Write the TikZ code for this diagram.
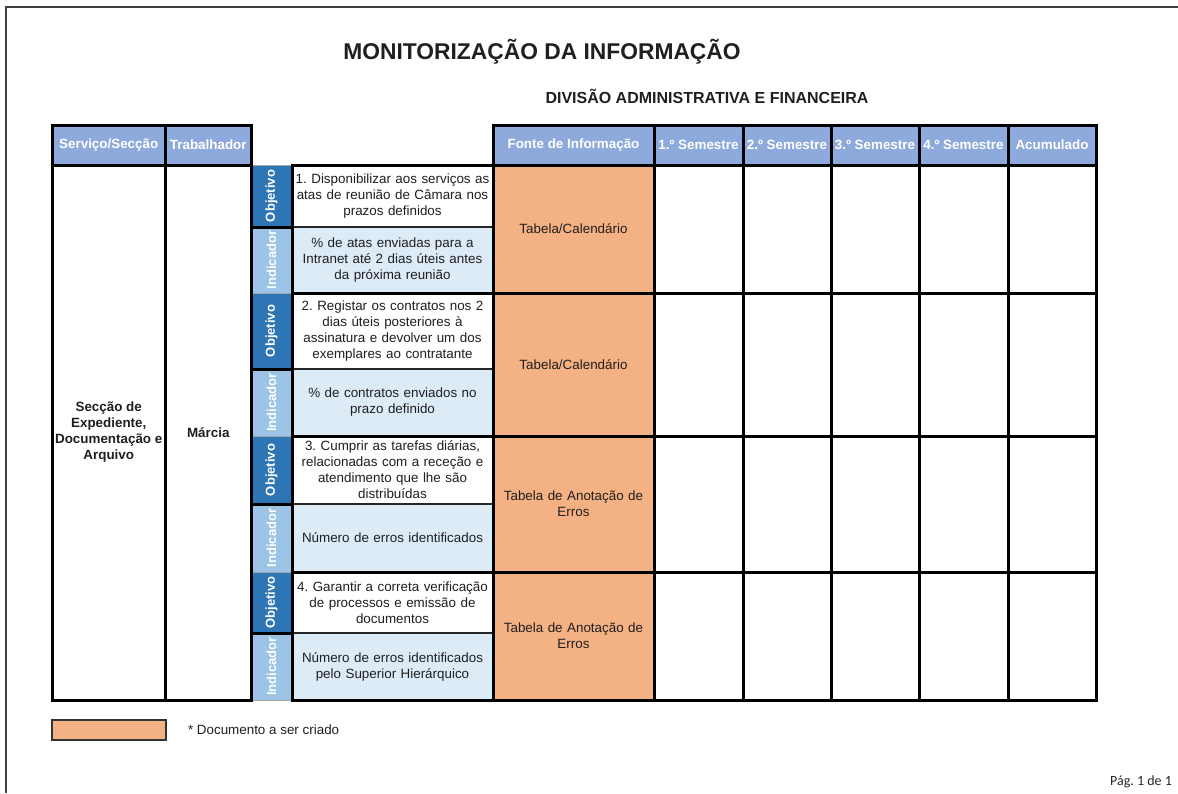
\documentclass[tikz,border=0pt]{standalone}
\usepackage{fontspec}
\setmainfont{Liberation Sans}
\newfontfamily\pagefont{Carlito}
\usetikzlibrary{positioning}
\frenchspacing

\definecolor{headblue}{HTML}{8EA9DB}
\definecolor{objblue}{HTML}{2E75B6}
\definecolor{indblue}{HTML}{9DC3E6}
\definecolor{indfill}{HTML}{DDEBF7}
\definecolor{srcorange}{HTML}{F4B183}

\begin{document}
\begin{tikzpicture}[x=1pt,y=-1pt,
	cell/.style={anchor=north west,inner sep=0pt,outer sep=0pt,align=center,
		font=\fontsize{13.4}{16}\selectfont,text=black!88},
	head/.style={cell,fill=headblue,text=white,minimum height=40pt,
		font=\fontsize{13.4}{16}\selectfont\bfseries},
	txt/.style={cell,draw=black!85,line width=1.2pt,minimum width=201pt,text width=196pt},
	objtxt/.style={txt,fill=white},
	indtxt/.style={txt,fill=indfill},
	lab/.style={anchor=center,inner sep=0pt,outer sep=0pt,rotate=90,minimum height=40pt,
		draw=black!35,line width=1pt,text=white,font=\fontsize{13}{15}\selectfont\bfseries},
	objlab/.style={lab,fill=objblue},
	indlab/.style={lab,fill=indblue},
	source/.style={cell,fill=srcorange,minimum width=161pt,text width=156pt},
	frame/.style={draw=black,line width=3pt}]

	\useasboundingbox (0,0) rectangle (1178,793);
	\draw[line width=1.5pt,black!75] (6,793) -- (6,7) -- (1178,7);

	% titles
	\node[font=\fontsize{22.8}{26}\selectfont\bfseries,text=black!88] (title) at (542,52) {MONITORIZAÇÃO DA INFORMAÇÃO};
	\node[font=\fontsize{16}{19}\selectfont\bfseries,text=black!88] (subtitle) at (707,96) {DIVISÃO ADMINISTRATIVA E FINANCEIRA};

	% header row
	\node[head,minimum width=113.5pt] (hsec)  at (52,125)   {Serviço/Secção};
	\node[head,minimum width=85.5pt]  (htrab) at (165.5,125) {Trabalhador};
	\node[head,minimum width=161pt]   (hsrc)  at (493,125)  {Fonte de Informação};
	\node[head,minimum width=89pt]    (hs1)   at (654,125)  {1.º Semestre};
	\node[head,minimum width=88pt]    (hs2)   at (743,125)  {2.º Semestre};
	\node[head,minimum width=88pt]    (hs3)   at (831,125)  {3.º Semestre};
	\node[head,minimum width=89pt]    (hs4)   at (919,125)  {4.º Semestre};
	\node[head,minimum width=88pt]    (hacc)  at (1008,125) {Acumulado};

	% service and worker
	\node[cell,minimum width=113.5pt,minimum height=535pt,font=\fontsize{13.4}{16}\selectfont\bfseries] (sec) at (52,165)
		{Secção de\\Expediente,\\Documentação e\\Arquivo};
	\node[cell,minimum width=85.5pt,minimum height=535pt,font=\fontsize{13.4}{16}\selectfont\bfseries] (trab) at (165.5,165) {Márcia};

	% objective 1
	\node[objlab,minimum width=62pt] (lo1) at (271.5,196) {Objetivo};
	\node[indlab,minimum width=66pt] (li1) at (271.5,260) {Indicador};
	\node[objtxt,minimum height=62pt] (o1) at (292,165)
		{1. Disponibilizar aos serviços as\\atas de reunião de Câmara nos\\prazos definidos};
	\node[indtxt,minimum height=66pt] (i1) at (292,227)
		{\% de atas enviadas para a\\Intranet até 2 dias úteis antes\\da próxima reunião};
	\node[source,minimum height=128pt] (f1) at (493,165) {Tabela/Calendário};

	% objective 2
	\node[objlab,minimum width=76pt] (lo2) at (271.5,331) {Objetivo};
	\node[indlab,minimum width=67pt] (li2) at (271.5,402.5) {Indicador};
	\node[objtxt,minimum height=76pt] (o2) at (292,293)
		{2. Registar os contratos nos 2\\dias úteis posteriores à\\assinatura e devolver um dos\\exemplares ao contratante};
	\node[indtxt,minimum height=67pt] (i2) at (292,369)
		{\% de contratos enviados no\\prazo definido};
	\node[source,minimum height=143pt] (f2) at (493,293) {Tabela/Calendário};

	% objective 3
	\node[objlab,minimum width=68pt] (lo3) at (271.5,470) {Objetivo};
	\node[indlab,minimum width=68pt] (li3) at (271.5,538) {Indicador};
	\node[objtxt,minimum height=68pt] (o3) at (292,436)
		{3. Cumprir as tarefas diárias,\\relacionadas com a receção e\\atendimento que lhe são\\distribuídas};
	\node[indtxt,minimum height=68pt] (i3) at (292,504) {Número de erros identificados};
	\node[source,minimum height=136pt] (f3) at (493,436) {Tabela de Anotação de\\Erros};

	% objective 4
	\node[objlab,minimum width=61pt] (lo4) at (271.5,602.5) {Objetivo};
	\node[indlab,minimum width=67pt] (li4) at (271.5,666.5) {Indicador};
	\node[objtxt,minimum height=61pt] (o4) at (292,572)
		{4. Garantir a correta verificação\\de processos e emissão de\\documentos};
	\node[indtxt,minimum height=67pt] (i4) at (292,633)
		{Número de erros identificados\\pelo Superior Hierárquico};
	\node[source,minimum height=128pt] (f4) at (493,572) {Tabela de Anotação de\\Erros};

	% empty result cells
	\foreach \r/\y/\h in {1/165/128,2/293/143,3/436/136,4/572/128}
		\foreach \c/\x/\w in {1/654/89,2/743/88,3/831/88,4/919/89,5/1008/88}
			\node[cell,minimum width=\w pt,minimum height=\h pt] (d\r\c) at (\x,\y) {};

	% heavy rules
	\foreach \n in {hsec,htrab,hsrc,hs1,hs2,hs3,hs4,hacc,sec,trab,f1,f2,f3,f4}
		\draw[frame] (\n.north west) rectangle (\n.south east);
	\foreach \r in {1,2,3,4}{
		\draw[frame] (lo\r.south west) rectangle (li\r.north east);
		\draw[frame] (o\r.north west) rectangle (i\r.south east);
		\foreach \c in {1,...,5}
			\draw[frame] (d\r\c.north west) rectangle (d\r\c.south east);
	}

	% legend
	\node[cell,fill=srcorange,draw=black!80,line width=1.2pt,minimum width=114pt,minimum height=20pt] (legbox) at (52,720) {};
	\node[cell,anchor=west,right=22pt of legbox] (legtext) {* Documento a ser criado};

	\node[font=\pagefont\fontsize{14}{16}\selectfont,text=black!85] (page) at (1141,782) {Pág. 1 de 1};
\end{tikzpicture}
\end{document}
